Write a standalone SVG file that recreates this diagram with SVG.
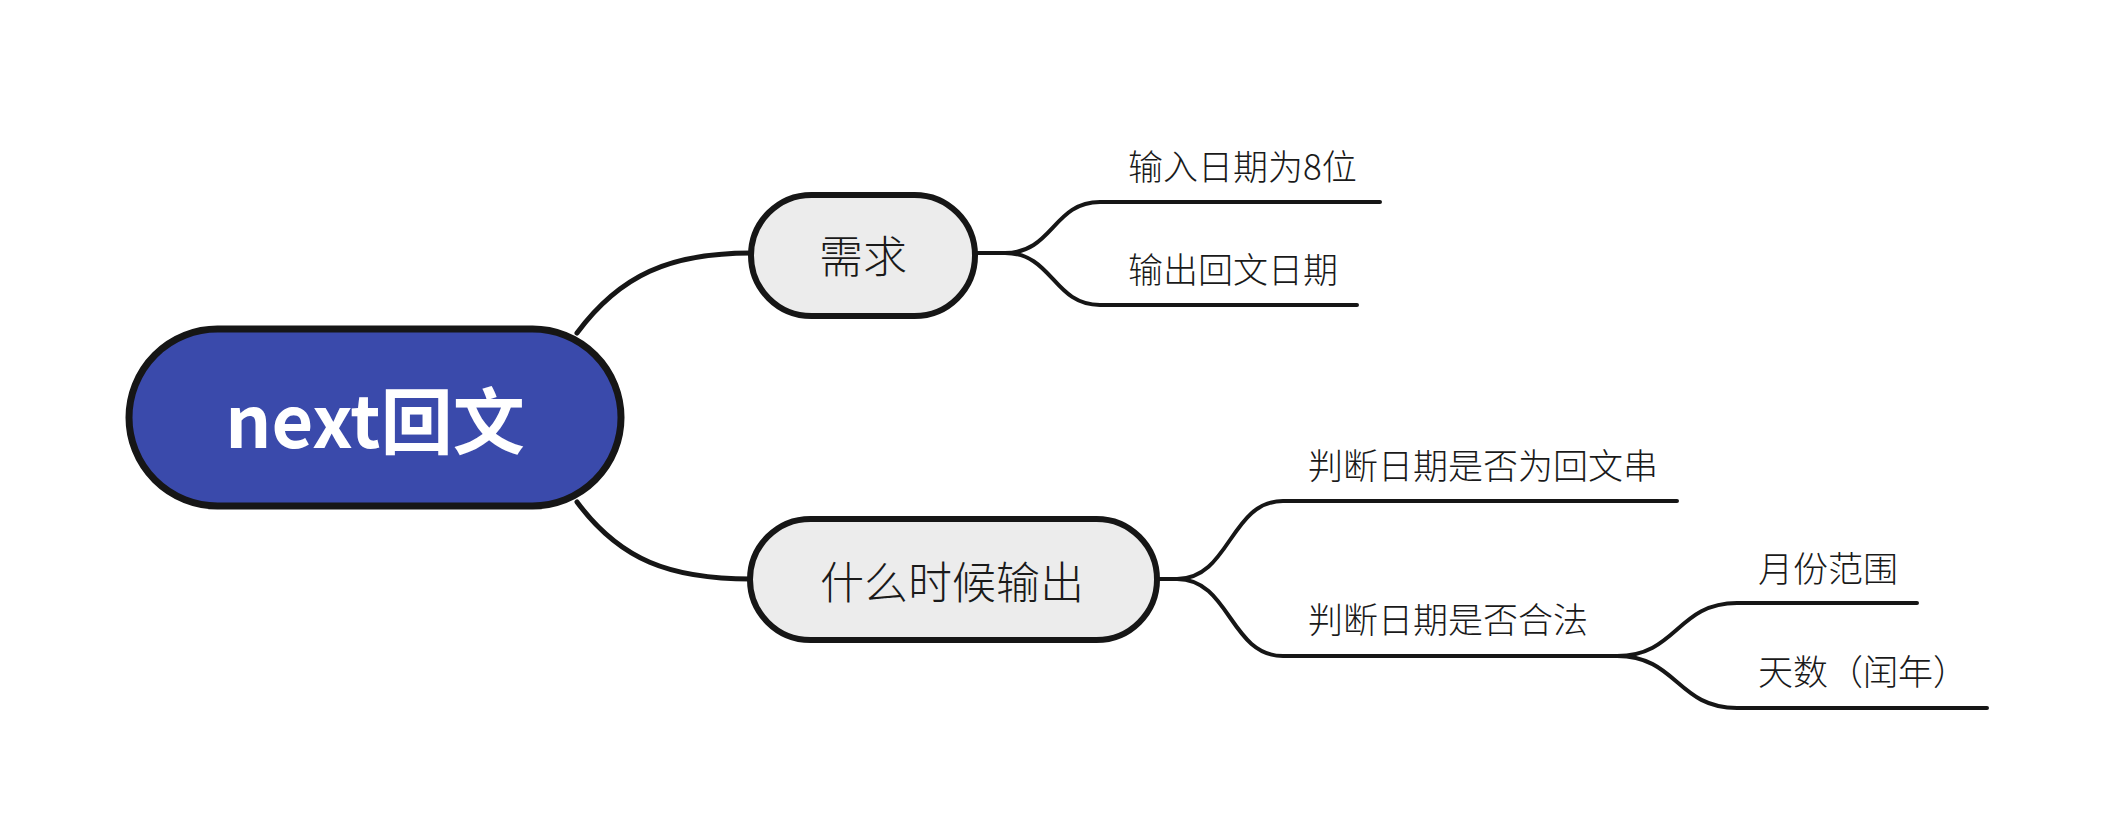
<svg xmlns="http://www.w3.org/2000/svg" width="2112" height="837" viewBox="0 0 2112 837">
<style>
.conn{fill:none;stroke:#161616;stroke-linecap:round;stroke-linejoin:round}
.main{stroke-width:5}
.sub{stroke-width:4}
.t{font-family:"Noto Sans CJK SC","Noto Sans",sans-serif;fill:#1a1a1a;dominant-baseline:central;font-weight:300}
.leaf{font-size:35px}
.topic{font-size:44px;text-anchor:middle}
.box{fill:#ececec;stroke:#161616;stroke-width:6}
</style>
<rect width="2112" height="837" fill="#ffffff"/>
<g id="connectors">
<path class="conn main" d="M577,333 C620,275 670,253 751,253"/>
<path class="conn main" d="M577,502 C620,560 670,579 751,579"/>
<path class="conn sub" d="M975,253 L1005,253 C1053,253 1053,202 1100,202 L1380,202"/>
<path class="conn sub" d="M975,253 L1005,253 C1053,253 1053,305 1100,305 L1357,305"/>
<path class="conn sub" d="M1157,579 L1177,579 C1230,579 1230,501 1283,501 L1677,501"/>
<path class="conn sub" d="M1157,579 L1177,579 C1230,579 1230,656 1283,656 L1617,656"/>
<path class="conn sub" d="M1617,656 C1677,656 1677,603 1737,603 L1917,603"/>
<path class="conn sub" d="M1617,656 C1677,656 1677,708 1737,708 L1987,708"/>
</g>
<g id="root">
<rect x="129" y="329" width="492" height="177" rx="88.5" fill="#3a4aab" stroke="#161616" stroke-width="7"/>
<text class="t" x="375" y="416" font-size="72" text-anchor="middle" style="fill:#ffffff;font-weight:700">next回文</text>
</g>
<g id="node-xuqiu">
<rect class="box" x="751" y="195" width="224" height="121" rx="60.5"/>
<text class="t topic" x="863" y="254">需求</text>
</g>
<g id="node-when">
<rect class="box" x="750" y="519" width="407" height="121" rx="60.5"/>
<text class="t topic" x="952" y="580">什么时候输出</text>
</g>
<g id="leaf-1">
<text class="t leaf" x="1128" y="164">输入日期为8位</text>
</g>
<g id="leaf-2">
<text class="t leaf" x="1128" y="267">输出回文日期</text>
</g>
<g id="leaf-3">
<text class="t leaf" x="1308" y="463">判断日期是否为回文串</text>
</g>
<g id="leaf-4">
<text class="t leaf" x="1308" y="617">判断日期是否合法</text>
</g>
<g id="leaf-5">
<text class="t leaf" x="1758" y="566">月份范围</text>
</g>
<g id="leaf-6">
<text class="t leaf" x="1758" y="669">天数（闰年）</text>
</g>
</svg>
